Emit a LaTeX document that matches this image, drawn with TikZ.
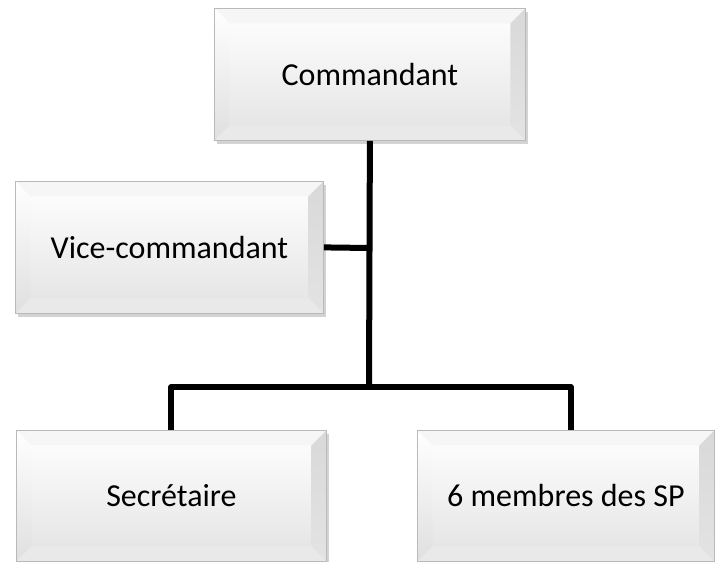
\documentclass[tikz,border=0pt]{standalone}
\usepackage{fontspec}
\setmainfont{Carlito}
\usetikzlibrary{shadows}
\newcommand\bvb[1]{path picture bounding box.#1}
\tikzset{
  orgbox/.style={rectangle, anchor=north west, inner sep=0pt,
    draw=gray!55, line width=0.8pt,
    top color=white, bottom color=gray!22,
    font=\fontsize{32}{38}\selectfont,
    drop shadow={shadow xshift=3pt, shadow yshift=-4pt, opacity=0.35, fill=gray},
    path picture={
      \fill[gray!7] (\bvb{north west}) -- (\bvb{north east})
        -- ([xshift=-15pt,yshift=-15pt]\bvb{north east})
        -- ([xshift=15pt,yshift=-15pt]\bvb{north west}) -- cycle;
      \shade[top color=white, bottom color=gray!25] (\bvb{north west})
        -- ([xshift=15pt,yshift=-15pt]\bvb{north west})
        -- ([xshift=15pt,yshift=15pt]\bvb{south west})
        -- (\bvb{south west}) -- cycle;
      \shade[top color=gray!30, bottom color=gray!22] (\bvb{north east})
        -- ([xshift=-15pt,yshift=-15pt]\bvb{north east})
        -- ([xshift=-15pt,yshift=15pt]\bvb{south east})
        -- (\bvb{south east}) -- cycle;
      \fill[gray!17] (\bvb{south west})
        -- ([xshift=15pt,yshift=15pt]\bvb{south west})
        -- ([xshift=-15pt,yshift=15pt]\bvb{south east})
        -- (\bvb{south east}) -- cycle;
    }},
  link/.style={line width=6pt, black, line join=round}
}
\begin{document}
\begin{tikzpicture}[x=1pt,y=-1pt]
\useasboundingbox (0,0) rectangle (715,562);
\node[orgbox, minimum width=311pt, minimum height=132pt] (com) at (214,8) {Commandant};
\node[orgbox, minimum width=308pt, minimum height=132pt] (vice) at (15,181) {Vice-commandant};
\node[orgbox, minimum width=310pt, minimum height=131pt] (sec) at (16,430) {Secrétaire};
\node[orgbox, minimum width=297pt, minimum height=131pt] (mem) at (417,430) {6 membres des SP};
\coordinate (bus) at (369,387);
\coordinate (vj) at (369,248);
\draw[link] (com.south) -- (bus);
\draw[link] (vice.east) -- (vj);
\draw[link] (sec.north) |- (bus) -| ([xshift=5pt]mem.north);
\end{tikzpicture}
\end{document}
